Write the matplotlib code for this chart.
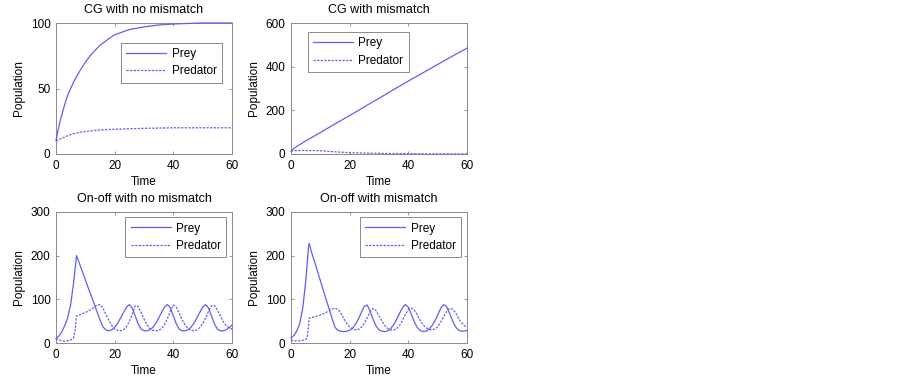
import matplotlib
matplotlib.use("Agg")
import matplotlib.pyplot as plt

plt.rcParams['font.family'] = ['Liberation Sans', 'DejaVu Sans']

# ------------------------------------------------------------
# data
# ------------------------------------------------------------
# CG with no mismatch
cg_t = [0, 0.5, 1, 1.5, 2, 3, 4, 5, 6, 7, 8, 10, 12, 15, 18, 20, 25, 30, 35, 40, 45, 50, 55, 60]
cg_prey = [10, 16, 21, 26, 30, 38, 45, 50, 55, 59, 63, 70, 76, 83, 88, 91, 95, 97, 98.5, 99.2, 99.7, 100, 100, 100]
cg_pred = [10, 10.5, 11, 11.5, 12, 13, 14, 14.8, 15.5, 16, 16.5, 17.2, 17.7, 18.3, 18.7, 18.9, 19.3, 19.6, 19.8, 20, 20, 20, 20, 20]

# CG with mismatch
cgm_t = [0, 1, 2, 3, 5, 7, 10, 15, 20, 25, 30, 35, 40, 45, 50, 55, 60]
cgm_prey = [12, 25, 35, 43, 60, 75, 98, 138, 176, 216, 255, 295, 334, 372, 410, 448, 485]
cgm_pred = [14, 15, 16, 16, 16, 16, 15, 10, 6, 4.5, 3, 2, 1.5, 1, 0.8, 0.6, 0.5]

# On-off with no mismatch
ono_prey_t = list(range(61))
ono_prey = [10, 16, 26, 40, 58, 88, 138, 200,
            182, 163, 145, 126, 108, 90, 71, 53, 37,
            30, 28,
            30, 36, 45, 57, 70, 82, 88, 80, 62, 44, 32, 28, 28,
            30, 36, 45, 57, 70, 82, 88, 80, 62, 44, 32, 28, 28,
            30, 36, 45, 57, 70, 82, 88, 80, 62, 44, 32, 28, 28,
            30, 35, 41]
ono_pred_t = [0, 1, 2, 3, 4, 5, 6, 6.5] + list(range(7, 61))
ono_pred = [10, 7, 5, 4, 5, 7, 12, 30,
            62, 64, 67, 70, 73, 77, 82, 87, 88,
            80, 66, 52, 40, 32, 29, 28, 30, 37, 49,
            66, 85, 84, 70, 55, 42, 33, 29, 28, 29,
            33, 42, 56, 73, 87, 82, 68, 53, 41, 33,
            29, 28, 30, 35, 44, 57, 73, 85, 86, 76,
            62, 49, 40, 35, 32]

# On-off with mismatch
onm_prey_t = [0, 1, 2, 3, 4, 5, 6, 6.2] + list(range(7, 61))
onm_prey = [12, 17, 28, 45, 80, 140, 222, 228,
            208, 187, 165, 143, 121, 99, 78, 56, 36, 29,
            27, 26,
            27, 29, 34, 43, 55, 70, 84, 87, 72, 54,
            39, 30, 27, 26, 28, 33, 42, 54, 68, 81,
            88, 82, 66, 49, 36, 29, 26, 27, 31, 39,
            50, 64, 79, 88, 84, 69, 52, 38, 30, 27,
            27, 29]
onm_pred_t = [0, 1, 2, 3, 4, 5, 5.5, 6, 6.2] + list(range(7, 61))
onm_pred = [7, 5, 5, 5, 6, 8, 12, 40, 57,
            58, 60, 62, 64, 67, 70, 74, 78, 80,
            77, 68, 56, 45, 37, 32, 30, 31, 36, 45,
            58, 72, 79, 74, 62, 50, 40, 33, 30, 30,
            33, 40, 52, 65, 77, 80, 76, 65, 52, 42,
            35, 31, 30, 32, 37, 47, 60, 72, 79, 78,
            70, 58, 47, 40, 36]

xticks = [0, 20, 40, 60]

# ------------------------------------------------------------
# plotting
# ------------------------------------------------------------
W, H = 903, 378
fig = plt.figure(figsize=(W / 100, H / 100), dpi=100)

line_col = '#5f5ff5'
spine_col = '#8a8a8a'
fs = 8.5


def make_ax(x0, y_top, w, h):
    return fig.add_axes([x0 / W, 1 - (y_top + h) / H, w / W, h / H])


def style(ax, title, yticks, leg_xy):
    ax.set_xlim(0, 60)
    ax.set_ylim(yticks[0], yticks[-1])
    ax.set_xticks(xticks)
    ax.set_yticks(yticks)
    ax.tick_params(direction='in', top=True, right=True, length=2.5, width=0.6,
                   color=spine_col, labelsize=fs, pad=4)
    for s in ax.spines.values():
        s.set_color(spine_col)
        s.set_linewidth(0.7)
    ax.set_title(title, fontsize=9, pad=7)
    ax.set_xlabel("Time", fontsize=fs, labelpad=3)
    ax.set_ylabel("Population", fontsize=fs, labelpad=4)
    leg = ax.legend(loc='upper left', bbox_to_anchor=leg_xy, fontsize=fs,
                    handlelength=3.4, handletextpad=0.45, borderpad=0.45,
                    labelspacing=0.45, borderaxespad=0, fancybox=False,
                    framealpha=1)
    leg.get_frame().set_edgecolor(spine_col)
    leg.get_frame().set_linewidth(0.7)


def draw(ax, tp, prey, tq, pred):
    ax.plot(tp, prey, color=line_col, lw=0.9, label='Prey', zorder=3, clip_on=False)
    ax.plot(tq, pred, color=line_col, lw=0.9, dashes=(1.8, 1.1), label='Predator',
            zorder=3, clip_on=False)


ax1 = make_ax(56, 23, 176, 131)
draw(ax1, cg_t, cg_prey, cg_t, cg_pred)
style(ax1, "CG with no mismatch", [0, 50, 100], (0.369, 0.85))

ax2 = make_ax(291, 23, 176, 131)
draw(ax2, cgm_t, cgm_prey, cgm_t, cgm_pred)
style(ax2, "CG with mismatch", [0, 200, 400, 600], (0.095, 0.93))

ax3 = make_ax(56, 212, 176, 131)
draw(ax3, ono_prey_t, ono_prey, ono_pred_t, ono_pred)
style(ax3, "On-off with no mismatch", [0, 100, 200, 300], (0.394, 0.96))

ax4 = make_ax(291, 212, 176, 131)
draw(ax4, onm_prey_t, onm_prey, onm_pred_t, onm_pred)
style(ax4, "On-off with mismatch", [0, 100, 200, 300], (0.392, 0.96))

plt.savefig('out.png', dpi=100)
